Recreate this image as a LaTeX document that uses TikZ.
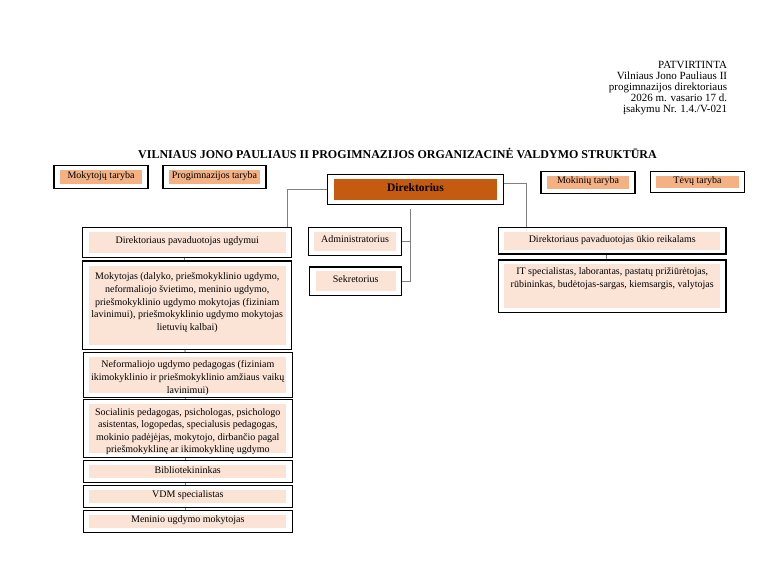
\documentclass[tikz,border=0pt]{standalone}
\usepackage{fontspec}
\setmainfont{Liberation Serif}
\usetikzlibrary{positioning}
\definecolor{dirfill}{HTML}{C55A11}
\definecolor{councilfill}{HTML}{F4B183}
\definecolor{palefill}{HTML}{FBE4D5}
\definecolor{linkgray}{HTML}{808080}
\tikzset{
	box/.style={draw=black, line width=1.2pt, fill=white, inner sep=0pt, align=center,
		font=\fontsize{10}{12.6}\selectfont, text depth=4pt,
		path picture={\fill[#1] ([shift={(6pt,-4.5pt)}]path picture bounding box.north west)
			rectangle ([shift={(-6pt,4.5pt)}]path picture bounding box.south east);}},
	box/.default=palefill,
	multi/.style={text depth=0pt},
	link/.style={draw=linkgray, line width=0.9pt},
}
\begin{document}
\begin{tikzpicture}[x=1pt, y=-1pt]
			\useasboundingbox[fill=white] (0,0) rectangle (780,566);

			% header
			\node[anchor=north east, align=right, inner sep=0pt, font=\fontsize{11}{11}\selectfont] (approved) at (727.3,61)
				{PATVIRTINTA\\Vilniaus Jono Pauliaus II\\progimnazijos direktoriaus\\2026 m. vasario 17 d.\\įsakymu Nr. 1.4./V-021};
			\node[font=\fontsize{12}{14}\bfseries] (title) at (397.5,153.5)
				{VILNIAUS JONO PAULIAUS II PROGIMNAZIJOS ORGANIZACINĖ VALDYMO STRUKTŪRA};

			% councils
			\node[box=councilfill, minimum width=94, minimum height=23] (mokt) at (101,177.2) {Mokytojų taryba};
			\node[box=councilfill, minimum width=103, minimum height=23] (progt) at (214.5,177) {Progimnazijos taryba};
			\node[box=councilfill, minimum width=94, minimum height=21.6] (mokin) at (588,182.5) {Mokinių taryba};
			\node[box=councilfill, minimum width=94.4, minimum height=21.6] (tevu) at (697.5,182) {Tėvų taryba};

			% director
			\node[box=dirfill, minimum width=175.6, minimum height=30, font=\fontsize{11.5}{13}\bfseries] (dir) at (415.5,189.3) {Direktorius};

			% left column
			\node[box, minimum width=209, minimum height=30.4] (dpu) at (187.2,242.5) {Direktoriaus pavaduotojas ugdymui};
			\node[box, minimum width=209, minimum height=88.3, text depth=7pt] (mokytojas) at (187.2,305.2)
				{Mokytojas (dalyko, priešmokyklinio ugdymo,\\neformaliojo švietimo, meninio ugdymo,\\priešmokyklinio ugdymo mokytojas (fiziniam\\lavinimui), priešmokyklinio ugdymo mokytojas\\lietuvių kalbai)};
			\node[box, multi, minimum width=209, minimum height=44.6] (neform) at (187.8,375)
				{\rule{0pt}{11pt}Neformaliojo ugdymo pedagogas (fiziniam\\ikimokyklinio ir priešmokyklinio amžiaus vaikų\\lavinimui)};
			\node[box, multi, minimum width=209, minimum height=58.4] (social) at (187.8,428.5)
				{\rule{0pt}{11pt}Socialinis pedagogas, psichologas, psichologo\\asistentas, logopedas, specialusis pedagogas,\\mokinio padėjėjas, mokytojo, dirbančio pagal\\priešmokyklinę ar ikimokyklinę ugdymo};
			\node[box, minimum width=209, minimum height=22] (biblio) at (187.8,471.7) {Bibliotekininkas};
			\node[box, minimum width=209, minimum height=21.6] (vdm) at (187.8,496.5) {VDM specialistas};
			\node[box, minimum width=209, minimum height=22] (meninio) at (187.8,521.3) {Meninio ugdymo mokytojas};

			% middle column
			\node[box, minimum width=93.4, minimum height=28.4] (admin) at (355,241.5) {Administratorius};
			\node[box, minimum width=92, minimum height=28.7] (sekr) at (355.7,281.3) {Sekretorius};

			% right column
			\node[box, minimum width=227.7, minimum height=26.7] (dpt) at (612.2,240.7) {Direktoriaus pavaduotojas ūkio reikalams};
			\node[box, minimum width=227.7, minimum height=52.7, text depth=18pt] (it) at (612.2,286.3)
				{IT specialistas, laborantas, pastatų prižiūrėtojas,\\rūbininkas, budėtojas-sargas, kiemsargis, valytojas};

			% connectors
			\draw[link] (dir.west) -| ([xshift=-5pt]dpu.north east);
			\draw[link] ([yshift=6pt]dir.east) -| ([xshift=29pt]dpt.north west);
			\coordinate (staff) at (410.7,209.3);
			\draw[link] (staff) |- (sekr.east);
			\draw[link] (admin.east) -- (admin.east -| staff);
			\draw[link] ([xshift=-5.5pt]dpt.south) -- ([xshift=-5.5pt]it.north);
			\foreach \a/\b in {dpu/mokytojas, mokytojas/neform, neform/social, social/biblio, biblio/vdm, vdm/meninio}
				\draw[link] ([xshift=-2.5pt]\a.south) -- ([xshift=-2.5pt]\b.north);
		\end{tikzpicture}
\end{document}
